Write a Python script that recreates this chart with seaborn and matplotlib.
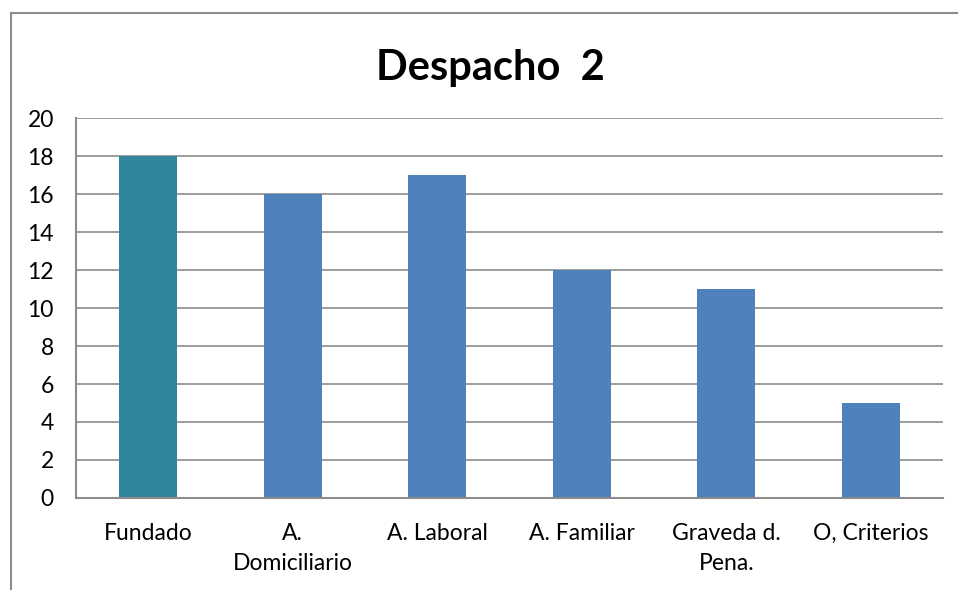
import seaborn as sns
import pandas as pd
import matplotlib.pyplot as plt
from matplotlib.patches import Rectangle

categorias = ['Fundado', 'A.\nDomiciliario', 'A. Laboral', 'A. Familiar', 'Graveda d.\nPena.', 'O, Criterios']
valores = [18, 16, 17, 12, 11, 5]
colores = ['#31859C', '#4F81BD', '#4F81BD', '#4F81BD', '#4F81BD', '#4F81BD']

df = pd.DataFrame({'cat': categorias, 'val': valores})

sns.set_style('white')
plt.rcParams['font.family'] = ['Lato', 'DejaVu Sans']
plt.rcParams['text.color'] = 'black'
plt.rcParams['xtick.color'] = 'black'
plt.rcParams['ytick.color'] = 'black'

fig = plt.figure(figsize=(9.58, 5.9), dpi=100)
ax = fig.add_axes([76/958, 1-498/590, (943-76)/958, (498-118)/590])

sns.barplot(df, x='cat', y='val', hue='cat', palette=colores, width=0.4,
            legend=False, saturation=1, linewidth=0, ax=ax)

ax.set_ylim(0, 20)
ax.set_yticks(range(0, 21, 2))
ax.grid(axis='y', color='#8c8c8c', linewidth=1.2)
ax.set_axisbelow(True)
for s in ['top', 'right']:
    ax.spines[s].set_visible(False)
for s in ['left', 'bottom']:
    ax.spines[s].set_color('#8c8c8c')
    ax.spines[s].set_linewidth(1.5)
ax.set_xlabel('')
ax.set_ylabel('')
ax.tick_params(axis='both', length=0, labelsize=16.5)
ax.tick_params(axis='x', pad=18)
ax.tick_params(axis='y', pad=16)
for t in ax.get_xticklabels():
    t.set_linespacing(1.55)

fig.text(490/958, 1-68/590, 'Despacho  2', ha='center', va='center',
         fontsize=30, fontweight='bold')

fig.patches.append(Rectangle((11/958, -0.1), 1.1, 1-13/590+0.1,
                             transform=fig.transFigure, fill=False,
                             edgecolor='#8c8c8c', linewidth=1.5))

plt.savefig('out.png', dpi=100)
